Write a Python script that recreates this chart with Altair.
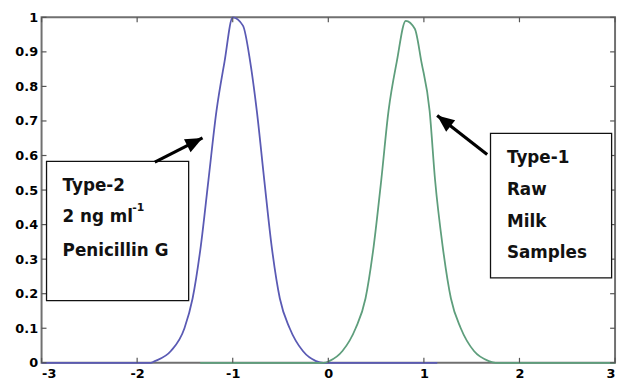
import altair as alt
import pandas as pd

# ---- data ----
blue_x = [-3.0, -1.86, -1.815, -1.647, -1.505, -1.42, -1.334, -1.254, -1.17, -1.086, -1.0,
          -0.893, -0.817, -0.748, -0.67, -0.593, -0.507, -0.404, -0.266, -0.128, -0.05, 1.14]
blue_y = [0.0, 0.0, 0.005, 0.034, 0.1, 0.186, 0.338, 0.529, 0.729, 0.871, 1.0,
          0.976, 0.871, 0.729, 0.529, 0.338, 0.186, 0.1, 0.034, 0.005, 0.0, 0.0]

green_x = [-1.34, -0.05, 0.01, 0.148, 0.286, 0.389, 0.475, 0.554, 0.63, 0.716, 0.81,
           0.905, 0.974, 1.06, 1.117, 1.196, 1.283, 1.386, 1.524, 1.68, 1.75, 3.0]
green_y = [0.0, 0.0, 0.005, 0.034, 0.1, 0.186, 0.338, 0.529, 0.729, 0.871, 0.99,
           0.967, 0.871, 0.729, 0.529, 0.338, 0.186, 0.1, 0.034, 0.005, 0.0, 0.0]

x_ticks = [-3, -2, -1, 0, 1, 2, 3]
y_ticks = [0, 0.1, 0.2, 0.3, 0.4, 0.5, 0.6, 0.7, 0.8, 0.9, 1]

# annotation boxes (data coordinates)
box_x = [-2.948, 1.697]
box_x2 = [-1.461, 2.964]
box_y = [0.583, 0.664]
box_y2 = [0.18, 0.246]

# arrows: start (at box) -> tip (at curve)
arrow_x = [-1.815, 1.662]
arrow_y = [0.581, 0.603]
arrow_tx = [-1.316, 1.139]
arrow_ty = [0.651, 0.716]
arrow_angle = [63, 308]

# annotation texts
label_text = ["Type-2", "2 ng ml", "Penicillin G", "Type-1", "Raw", "Milk", "Samples"]
label_x = [-2.78, -2.78, -2.78, 1.869, 1.869, 1.869, 1.869]
label_y = [0.497, 0.407, 0.31, 0.577, 0.486, 0.394, 0.303]
sup_text = ["-1"]
sup_x = [-2.05]
sup_y = [0.44]

W, H = 581, 350

# ---- tables ----
curves = pd.concat([
    pd.DataFrame({"x": blue_x, "y": blue_y, "series": "Type-2", "i": range(len(blue_x))}),
    pd.DataFrame({"x": green_x, "y": green_y, "series": "Type-1", "i": range(len(green_x))}),
])
boxes = pd.DataFrame({"x": box_x, "x2": box_x2, "y": box_y, "y2": box_y2})
arrows = pd.DataFrame({"x": arrow_x, "y": arrow_y, "tx": arrow_tx, "ty": arrow_ty, "a": arrow_angle})
labels = pd.DataFrame({"t": label_text, "x": label_x, "y": label_y})
sups = pd.DataFrame({"t": sup_text, "x": sup_x, "y": sup_y})
xt = pd.DataFrame({"x": x_ticks})
yt = pd.DataFrame({"y": y_ticks})

xs = alt.Scale(domain=[-3, 3], nice=False, zero=False)
ys = alt.Scale(domain=[0, 1], nice=False, zero=False)
xa = alt.Axis(values=x_ticks, labelExpr="'' + datum.value", domain=False, ticks=False,
              grid=False, labelFont="DejaVu Sans", labelFontWeight="bold", labelFontSize=13,
              labelColor="#000", labelPadding=5, title=None)
ya = alt.Axis(values=y_ticks, labelExpr="'' + datum.value", domain=False, ticks=False,
              grid=False, labelFont="DejaVu Sans", labelFontWeight="bold", labelFontSize=13,
              labelColor="#000", labelPadding=4, title=None)


def X(f):
    return alt.X(f, scale=xs, axis=xa, title=None)


def Y(f):
    return alt.Y(f, scale=ys, axis=ya, title=None)


lines = alt.Chart(curves).mark_line(strokeWidth=1.8, interpolate="monotone").encode(
    x=X("x:Q"), y=Y("y:Q"),
    color=alt.Color("series:N", scale=alt.Scale(domain=["Type-2", "Type-1"],
                                                range=["#5a5ab4", "#5e9e7c"]), legend=None),
    order="i:Q",
)

tick_color = "#555"
tb = alt.Chart(xt).mark_rule(color=tick_color, strokeWidth=1.2).encode(
    x=X("x:Q"), y=alt.value(H), y2=alt.value(H - 5))
tt = alt.Chart(xt).mark_rule(color=tick_color, strokeWidth=1.2).encode(
    x=X("x:Q"), y=alt.value(0), y2=alt.value(5))
tl = alt.Chart(yt).mark_rule(color=tick_color, strokeWidth=1.2).encode(
    y=Y("y:Q"), x=alt.value(0), x2=alt.value(5))
tr = alt.Chart(yt).mark_rule(color=tick_color, strokeWidth=1.2).encode(
    y=Y("y:Q"), x=alt.value(W), x2=alt.value(W - 5))

rects = alt.Chart(boxes).mark_rect(fill="white", stroke="#111", strokeWidth=1.3).encode(
    x=X("x:Q"), x2="x2:Q", y=Y("y:Q"), y2="y2:Q")

shafts = alt.Chart(arrows).mark_rule(color="black", strokeWidth=3.2).encode(
    x=X("x:Q"), y=Y("y:Q"), x2="tx:Q", y2="ty:Q")
heads = alt.Chart(arrows).mark_point(
    shape="M0,0L0.85,2L-0.85,2Z", filled=True, color="black", size=300, opacity=1).encode(
    x=X("tx:Q"), y=Y("ty:Q"), angle=alt.Angle("a:Q", scale=None))

texts = alt.Chart(labels).mark_text(
    font="DejaVu Sans", fontWeight="bold", fontSize=17, align="left", baseline="alphabetic",
    color="#111").encode(x=X("x:Q"), y=Y("y:Q"), text="t:N")
suptexts = alt.Chart(sups).mark_text(
    font="DejaVu Sans", fontWeight="bold", fontSize=11, align="left", baseline="alphabetic",
    color="#111").encode(x=X("x:Q"), y=Y("y:Q"), text="t:N")

chart = alt.layer(lines, tb, tt, tl, tr, rects, shafts, heads, texts, suptexts).properties(
    width=W, height=H,
    autosize=alt.AutoSizeParams(type="none"),
    padding={"left": 34, "top": 7, "right": 4, "bottom": 16},
    background="white",
).configure_view(stroke="#707070", strokeWidth=2)

chart.save("out.html", embed_options={"renderer": "svg", "actions": False})
